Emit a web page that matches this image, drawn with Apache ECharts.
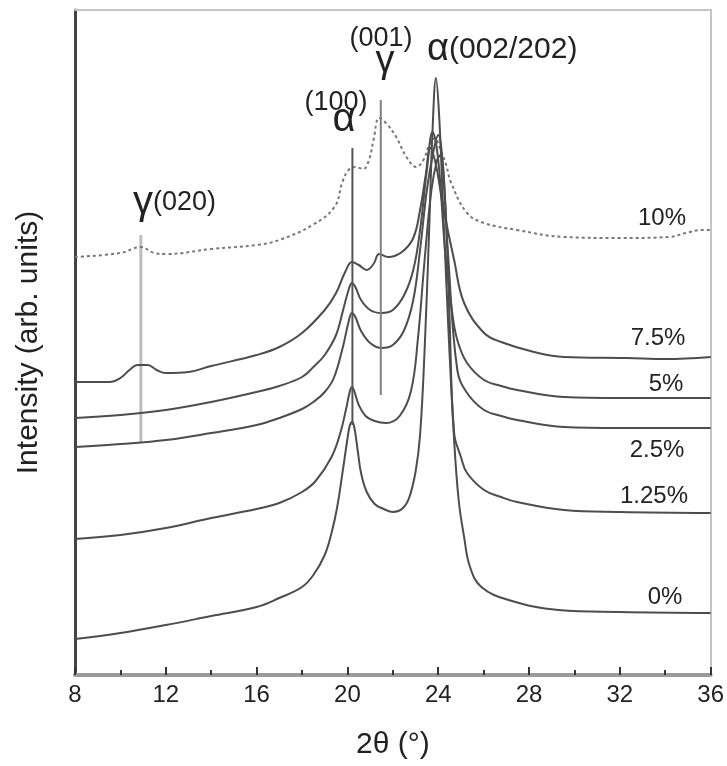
<!DOCTYPE html>
<html>
<head>
<meta charset="utf-8">
<script src="https://cdn.jsdelivr.net/npm/echarts@6/dist/echarts.min.js"></script>
<style>
html,body{margin:0;padding:0;background:#fff;}
#chart{width:727px;height:766px;}
</style>
</head>
<body>
<div id="chart"></div>
<script>
// x: 2θ (degrees), y: intensity (arbitrary units, stacked offsets as in the figure)
var xTicks = [8, 12, 16, 20, 24, 28, 32, 36];

var s0 = [[8,36],[10,42],[12,50],[14,59],[16,68],[17,77],[18,88],[18.5,100],[19.0,120],[19.3,142],[19.55,168],[19.8,205],[20.0,236],[20.1,249],[20.2,253],[20.3,248],[20.45,225],[20.6,202],[20.85,183],[21.2,171],[21.6,166],[22.0,163],[22.4,166],[22.7,176],[23.0,203],[23.2,240],[23.4,325],[23.6,445],[23.75,545],[23.9,597],[24.05,555],[24.2,475],[24.45,345],[24.7,235],[24.9,175],[25.14,138],[25.4,108],[25.9,88],[27.1,75],[29.3,65],[32,63],[36,62]];

var s125 = [[8,136],[10,140],[12,147],[14,157],[16,166],[17,172],[18,183],[18.6,194],[19.3,218],[19.7,243],[19.96,268],[20.1,283],[20.2,288],[20.3,284],[20.5,270],[20.8,259],[21.2,254],[21.7,252],[22.3,259],[22.8,284],[23.1,335],[23.4,415],[23.7,485],[23.95,515],[24.1,520],[24.3,475],[24.5,355],[24.7,242],[25.0,218],[25.27,202],[26.02,185],[26.77,178],[27.47,173],[29.54,165],[32,163],[36,162]];

var s25 = [[8,228],[10,231],[12,235],[14,242],[16,250],[17,257],[18,266],[18.5,273],[19.0,283],[19.4,297],[19.8,328],[20.05,353],[20.2,362],[20.35,358],[20.6,344],[21.0,332],[21.5,327],[22.0,330],[22.5,345],[22.9,375],[23.2,425],[23.5,485],[23.8,525],[24.0,540],[24.2,510],[24.45,415],[24.84,305],[25.27,282],[26.02,265],[26.77,259],[27.47,255],[29.54,248],[32,247],[36,247]];

var s5 = [[8,257],[10,260],[12,265],[14,273],[16,283],[17,289],[18,298],[18.5,308],[19.0,320],[19.5,340],[19.8,364],[20.05,385],[20.2,392],[20.35,388],[20.6,375],[21.0,365],[21.5,362],[22.0,365],[22.5,380],[22.9,405],[23.2,445],[23.5,505],[23.75,543],[24.0,515],[24.3,425],[24.6,365],[24.84,335],[25.27,312],[26.02,295],[26.77,289],[27.47,285],[29.54,278],[32,277],[36,277]];

var s75 = [[8,293],[9.5,293],[10.0,297],[10.4,305],[10.75,310],[11.2,310],[11.6,305],[12.0,302],[13,303],[14,309],[16,320],[17,328],[18,342],[19,365],[19.5,382],[19.9,403],[20.2,413],[20.5,410],[20.85,405],[21.15,411],[21.4,421],[21.8,418],[22.4,423],[22.9,437],[23.2,465],[23.45,500],[23.65,527],[23.9,510],[24.2,470],[24.7,415],[25.14,372],[26.02,342],[26.77,333],[28.22,323],[29.54,318],[32.3,317],[34,316],[36,318]];

var s10 = [[8,418],[10,422],[10.9,428],[11.5,422],[12,421],[14,426],[16,430],[17,435],[18.46,450],[19.43,468],[19.78,493],[20.05,505],[20.35,508],[20.7,506],[20.95,515],[21.15,535],[21.4,557],[21.7,552],[22.15,538],[22.6,518],[23.03,508],[23.35,515],[23.6,530],[23.85,537],[24.1,525],[24.35,510],[24.57,492],[25.27,462],[26.02,452],[27.47,445],[29.54,438],[32,437],[34.2,438],[34.9,442],[35.6,445],[36,445]];

// reflection marker lines: [x, yBottom], [x, yTop]
var gamma020Line = [[10.9,232],[10.9,440]];
var alpha100Line = [[20.22,250],[20.22,527]];
var gamma001Line = [[21.47,280],[21.47,575]];

var curveLabels = ['10%','7.5%','5%','2.5%','1.25%','0%'];

var FONT = 'Liberation Sans, Arial, sans-serif';
var chart = echarts.init(document.getElementById('chart'), null, {renderer:'canvas'});

function curve(name, data, dotted){
  return {
    name: name, type:'line', data:data, showSymbol:false, smooth:0.4,
    lineStyle:{color: dotted ? '#777' : '#4d4d4d', width: 2, type: dotted ? [3,3] : 'solid'},
    silent:true, z:3
  };
}
function vline(data, color, width, z){
  return {type:'line', data:data, showSymbol:false, silent:true, z:z,
    lineStyle:{color:color, width:width}};
}

function txt(left, top, text, size, align){
  return {type:'text', x:left, y:top, silent:true,
    style:{text:text, font: size+'px '+FONT, fill:'#222', align: align||'center', verticalAlign:'middle'}};
}

chart.setOption({
  animation:false,
  backgroundColor:'#fff',
  grid:{left:75, right:15, top:10, bottom:91, containLabel:false},
  xAxis:[{
    type:'value', min:8, max:36, interval:4,
    name:'2θ (°)', nameLocation:'middle', nameGap:55,
    nameTextStyle:{fontSize:30, color:'#222', fontFamily:FONT},
    axisLine:{show:true, onZero:false, lineStyle:{color:'#9a9a9a', width:4}},
    axisTick:{show:true, inside:true, length:8, lineStyle:{color:'#333', width:2}},
    minorTick:{show:true, splitNumber:2, length:5, lineStyle:{color:'#333', width:2}},
    axisLabel:{fontSize:24, color:'#222', fontFamily:FONT, margin:8},
    splitLine:{show:false}
  },{
    type:'value', min:8, max:36, position:'top',
    axisLine:{show:true, onZero:false, lineStyle:{color:'#c4c4c4', width:2}},
    axisTick:{show:false}, axisLabel:{show:false}, splitLine:{show:false}
  }],
  yAxis:[{
    type:'value', min:0, max:665,
    name:'Intensity (arb. units)', nameLocation:'middle', nameGap:31,
    nameTextStyle:{fontSize:30, color:'#222', fontFamily:FONT},
    axisLine:{show:true, onZero:false, lineStyle:{color:'#444', width:3}},
    axisTick:{show:false}, axisLabel:{show:false}, splitLine:{show:false}
  },{
    type:'value', min:0, max:665, position:'right',
    axisLine:{show:true, onZero:false, lineStyle:{color:'#c4c4c4', width:2}},
    axisTick:{show:false}, axisLabel:{show:false}, splitLine:{show:false}
  }],
  series:[
    vline(gamma020Line, '#bdbdbd', 3, 1),
    curve(curveLabels[0], s10, true),
    curve(curveLabels[1], s75),
    curve(curveLabels[2], s5),
    curve(curveLabels[3], s25),
    curve(curveLabels[4], s125),
    curve(curveLabels[5], s0),
    vline(alpha100Line, '#555', 2, 4),
    vline(gamma001Line, '#808080', 2, 4)
  ],
  graphic:[
    txt(662, 218, curveLabels[0], 24),
    txt(658, 338, curveLabels[1], 24),
    txt(666, 384, curveLabels[2], 24),
    txt(657, 450, curveLabels[3], 24),
    txt(654, 496, curveLabels[4], 24),
    txt(665, 597, curveLabels[5], 24),
    {type:'text', x:133, y:203, silent:true, style:{text:'{g|γ}{t|(020)}', verticalAlign:'middle', align:'left',
      rich:{g:{font:'40px '+FONT, fill:'#222'}, t:{font:'27px '+FONT, fill:'#222'}}}},
    txt(336, 103, '(100)', 27),
    txt(344, 120, 'α', 40),
    txt(381, 39, '(001)', 27),
    txt(385, 62, 'γ', 38),
    {type:'text', x:427, y:50, silent:true, style:{text:'{a|α}{t|(002/202)}', verticalAlign:'middle', align:'left',
      rich:{a:{font:'38px '+FONT, fill:'#222'}, t:{font:'30px '+FONT, fill:'#222'}}}}
  ]
});
</script>
</body>
</html>
